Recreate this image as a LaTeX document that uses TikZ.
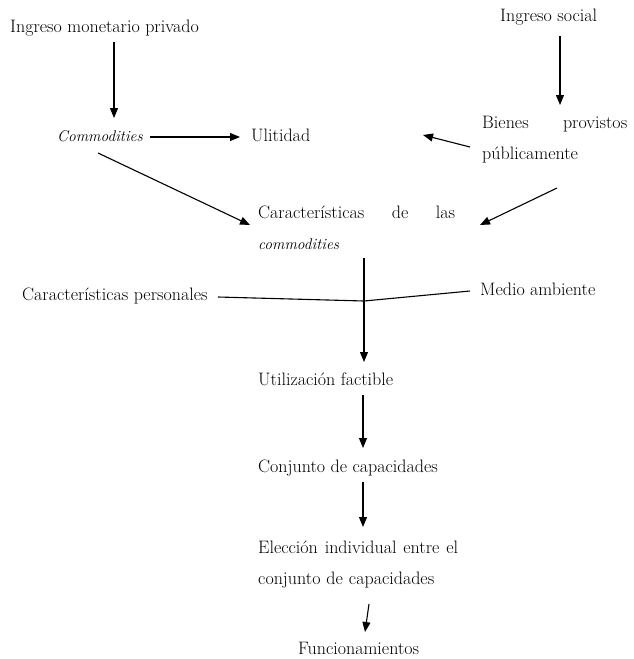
\documentclass[tikz,border=0pt]{standalone}
\usepackage{fontspec}
\usetikzlibrary{arrows.meta,calc}
\newcommand{\itword}[1]{{\fontsize{15.5}{31}\selectfont\itshape #1}}
\begin{document}
\begin{tikzpicture}[x=1pt,y=-1pt,
  lbl/.style={anchor=base west, inner sep=0pt, align=left,
    font=\fontsize{18}{31}\selectfont},
  arr/.style={line width=1.1pt, -{Triangle[length=10pt,width=8pt]}},
  ln/.style={line width=1.1pt}]
\useasboundingbox (0,0) rectangle (633,659);

% labels
\node[lbl] (imp) at (10,32) {Ingreso monetario privado};
\node[lbl] (isoc) at (500,21) {Ingreso social};
\node[lbl] (comm) at (57,141) {\itword{Commodities}};
\node[lbl] (util) at (251,141) {Ulitidad};
\node[lbl, text width=145pt] (bienes) at (482,128) {Bienes\hfill provistos\\públicamente};
\node[lbl, text width=197pt] (carc) at (258,218) {Características\hfill de\hfill las\\\itword{commodities}};
\node[lbl] (pers) at (22,300) {Características personales};
\node[lbl] (medio) at (480,295) {Medio ambiente};
\node[lbl] (utiliz) at (258,385) {Utilización factible};
\node[lbl] (conj) at (258,472) {Conjunto de capacidades};
\node[lbl, text width=200pt] (elec) at (258,553) {Elección\hfill individual\hfill entre\hfill el\\conjunto de capacidades};
\node[lbl] (func) at (298,654) {Funcionamientos};

% connectors
\draw[arr] ($(imp.base west)+(104,10)$) -- ($(comm.base west)+(57,-23)$);
\draw[arr] ($(isoc.base west)+(60,15)$) -- ($(bienes.base west)+(78,-23)$);
\draw[arr] ($(comm.base west)+(93,-4)$) -- ($(util.base west)+(-11,-4)$);
\draw[arr] ($(bienes.base west)+(-12,19)$) -- ($(util.base west)+(172,-6)$);
\draw[arr] ($(comm.base west)+(41,12)$) -- ($(carc.base west)+(-8,7)$);
\draw[arr] ($(bienes.base west)+(75,60)$) -- ($(carc.base west)+(222,7)$);

\coordinate (join) at ($(carc.base west)+(106,83)$);
\draw[ln] ($(pers.base west)+(196,-3)$) -- (join) -- ($(medio.base west)+(-10,-4)$);
\draw[arr] ($(carc.base west)+(106,40)$) -- ($(utiliz.base west)+(106,-23)$);

\draw[arr] ($(utiliz.base west)+(105,10)$) -- ($(conj.base west)+(105,-24)$);
\draw[arr] ($(conj.base west)+(105,10)$) -- ($(elec.base west)+(105,-26)$);
\draw[arr] ($(elec.base west)+(111,51)$) -- ($(func.base west)+(67,-22)$);
\end{tikzpicture}
\end{document}
